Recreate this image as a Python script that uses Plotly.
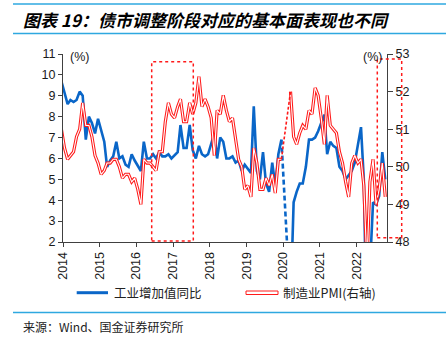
import plotly.graph_objects as go
import pandas as pd

W, H = 446, 339
L, R, T, B = 63, 59, 54, 97
PW = W - L - R
PH = H - T - B


def fx(x):
    return (x - L) / PW


def fy(y):
    return (H - B - y) / PH


# ---------------- data ----------------
start_month = "2013-12"
end_month = "2022-10"

# 工业增加值同比 (%), Jan values not published separately (None); 2021 = two-year average
iva_2013 = [9.7]
iva_2014 = [None, 8.6, 8.8, 8.7, 8.8, 9.2, 9.0, 6.9, 8.0, 7.7, 7.2, 7.9]
iva_2015 = [None, 6.8, 5.6, 5.9, 6.1, 6.8, 6.0, 6.1, 5.7, 5.6, 6.2, 5.9]
iva_2016 = [None, 5.4, 6.8, 6.0, 6.0, 6.2, 6.0, 6.3, 6.1, 6.1, 6.2, 6.0]
iva_2017 = [None, 6.3, 7.6, 6.5, 6.5, 7.6, 6.4, 6.0, 6.6, 6.2, 6.1, 6.2]
iva_2018 = [None, 7.2, 6.0, 7.0, 6.8, 6.0, 6.0, 6.1, 5.8, 5.9, 5.4, 5.7]
iva_2019 = [None, 5.3, 8.5, 5.4, 5.0, 6.3, 4.8, 4.4, 5.8, 4.7, 6.2, 6.9]
iva_2020 = [None, None, -1.1, 3.9, 4.4, 4.8, 4.8, 5.6, 6.9, 6.9, 7.0, 7.3]
iva_2021 = [None, 8.1, 6.2, 6.8, 6.6, 6.5, 5.6, 5.4, 5.0, 5.2, 5.4, 5.8]
iva_2022 = [None, 7.5, 5.0, -2.9, 0.7, 3.9, 3.8, 4.2, 6.3, 5.0]

# 制造业PMI (right axis)
pmi_2013 = [51.0]
pmi_2014 = [50.5, 50.2, 50.3, 50.4, 50.8, 51.0, 51.7, 51.1, 51.1, 50.8, 50.3, 50.1]
pmi_2015 = [49.8, 49.9, 50.1, 50.1, 50.2, 50.2, 50.0, 49.7, 49.8, 49.8, 49.6, 49.7]
pmi_2016 = [49.4, 49.0, 50.2, 50.1, 50.1, 50.0, 49.9, 50.4, 50.4, 51.2, 51.7, 51.4]
pmi_2017 = [51.3, 51.6, 51.8, 51.2, 51.2, 51.7, 51.4, 51.7, 52.4, 51.6, 51.8, 51.6]
pmi_2018 = [51.3, 50.3, 51.5, 51.4, 51.9, 51.5, 51.2, 51.3, 50.8, 50.2, 50.0, 49.4]
pmi_2019 = [49.5, 49.2, 50.5, 50.1, 49.4, 49.4, 49.7, 49.5, 49.8, 49.3, 50.2, 50.2]
pmi_2020 = [50.0, 35.7, 52.0, 50.8, 50.6, 50.9, 51.1, 51.0, 51.5, 51.4, 52.1, 51.9]
pmi_2021 = [51.3, 50.6, 51.9, 51.1, 51.0, 50.9, 50.4, 50.1, 49.6, 49.2, 50.1, 50.3]
pmi_2022 = [50.1, 50.2, 49.5, 47.4, 49.6, 50.2, 49.0, 49.4, 50.1, 49.2]

gap_months = ["2020-01", "2020-02"]   # bridged by a dashed line
year_ticks = ["2014", "2015", "2016", "2017", "2018", "2019", "2020", "2021", "2022"]

name_iva = "工业增加值同比"
name_pmi = "制造业PMI(右轴)"
title_text = "图表 19：债市调整阶段对应的基本面表现也不同"
source_text = "来源：Wind、国金证券研究所"

# ---------------- build series ----------------
months = pd.period_range(start_month, end_month, freq="M")
iva = (iva_2013 + iva_2014 + iva_2015 + iva_2016 + iva_2017 + iva_2018 +
       iva_2019 + iva_2020 + iva_2021 + iva_2022)
pmi = (pmi_2013 + pmi_2014 + pmi_2015 + pmi_2016 + pmi_2017 + pmi_2018 +
       pmi_2019 + pmi_2020 + pmi_2021 + pmi_2022)
xd = [p.to_timestamp() + pd.Timedelta(days=14) for p in months]
gap_p = [pd.Period(g, freq="M") for g in gap_months]


def split(vals):
    pre = [(x, v) for p, x, v in zip(months, xd, vals) if p < gap_p[0] and v is not None]
    post = [(x, v) for p, x, v in zip(months, xd, vals) if p > gap_p[-1] and v is not None]
    xs = [a for a, _ in pre] + [None] + [a for a, _ in post]
    ys = [b for _, b in pre] + [None] + [b for _, b in post]
    bridge = ([pre[-1][0], post[0][0]], [pre[-1][1], post[0][1]])
    return xs, ys, bridge


ix, iy, ib = split(iva)
px_, py_, pb = split(pmi)

BLUE = "#0A66C8"
RED = "#FF1A1A"

fig = go.Figure()
fig.add_trace(go.Scatter(x=ix, y=iy, mode="lines", line=dict(color=BLUE, width=2.6),
                         name=name_iva, showlegend=False))
fig.add_trace(go.Scatter(x=ib[0], y=ib[1], mode="lines",
                         line=dict(color=BLUE, width=2.6, dash="5px,3px"), showlegend=False))
fig.add_trace(go.Scatter(x=px_, y=py_, mode="lines", yaxis="y2",
                         line=dict(color=RED, width=3.2), name=name_pmi, showlegend=False))
fig.add_trace(go.Scatter(x=px_, y=py_, mode="lines", yaxis="y2",
                         line=dict(color="#FFFFFF", width=1.1), showlegend=False, hoverinfo="skip"))
fig.add_trace(go.Scatter(x=pb[0], y=pb[1], mode="lines", yaxis="y2",
                         line=dict(color=RED, width=1.6, dash="3px,2px"), showlegend=False))

AX = "#404040"
TF = dict(family="Liberation Sans, Arial, sans-serif", size=12.5, color="#1a1a1a")
fig.update_layout(
    width=W, height=H, margin=dict(l=L, r=R, t=T, b=B),
    paper_bgcolor="white", plot_bgcolor="white", showlegend=False,
    xaxis=dict(type="date", range=["2013-12-31", "2022-11-01"],
               tickvals=[y + "-01-01" for y in year_ticks], ticktext=year_ticks,
               tickangle=-90, ticks="outside", ticklen=4, tickcolor=AX,
               showline=True, linecolor=AX, linewidth=1, showgrid=False, zeroline=False,
               tickfont=TF),
    yaxis=dict(range=[2, 11], dtick=1, ticks="outside", ticklen=4, tickcolor=AX,
               showline=True, linecolor=AX, linewidth=1, showgrid=False, zeroline=False,
               tickfont=TF),
    yaxis2=dict(range=[48, 53], dtick=1, overlaying="y", side="right", ticks="outside",
                ticklen=5, tickcolor=AX, showline=True, linecolor=AX, linewidth=1,
                showgrid=False, zeroline=False, tickfont=TF),
)

LB = "#2EA8E0"
shapes = [
    dict(type="line", xref="paper", yref="paper", x0=fx(13), x1=fx(446), y0=fy(4), y1=fy(4),
         line=dict(color=LB, width=1.6)),
    dict(type="line", xref="paper", yref="paper", x0=fx(13), x1=fx(446), y0=fy(33.5), y1=fy(33.5),
         line=dict(color=LB, width=1.6)),
    dict(type="line", xref="paper", yref="paper", x0=fx(13), x1=fx(446), y0=fy(312.5), y1=fy(312.5),
         line=dict(color=LB, width=1.6)),
    # dotted highlight boxes
    dict(type="rect", xref="paper", yref="paper", x0=fx(151.7), x1=fx(193.3), y0=fy(241), y1=fy(61.7),
         line=dict(color=RED, width=1.5, dash="dot")),
    dict(type="rect", xref="paper", yref="paper", x0=fx(377.3), x1=fx(401.7), y0=fy(237.7), y1=fy(59),
         line=dict(color=RED, width=1.5, dash="dot")),
    # legend samples
    dict(type="line", xref="paper", yref="paper", x0=fx(76.7), x1=fx(108), y0=fy(292.7), y1=fy(292.7),
         line=dict(color=BLUE, width=3)),
    dict(type="rect", xref="paper", yref="paper", x0=fx(246), x1=fx(278), y0=fy(294.5), y1=fy(291),
         line=dict(color=RED, width=1), fillcolor="white"),
]
fig.update_layout(shapes=shapes)

CJK = "Noto Sans CJK SC, sans-serif"
ann = [
    dict(text="<b><i>" + title_text + "</i></b>", x=fx(21), y=fy(19.5), xanchor="left", yanchor="middle",
         font=dict(family=CJK, size=17, color="#000000")),
    dict(text=source_text, x=fx(21), y=fy(326.5), xanchor="left", yanchor="middle",
         font=dict(family=CJK, size=12, color="#222222")),
    dict(text=name_iva, x=fx(112), y=fy(292.7), xanchor="left", yanchor="middle",
         font=dict(family=CJK, size=12.5, color="#222222")),
    dict(text=name_pmi, x=fx(281), y=fy(292.7), xanchor="left", yanchor="middle",
         font=dict(family=CJK, size=12.5, color="#222222")),
    dict(text="(%)", x=fx(68), y=fy(57), xanchor="left", yanchor="middle",
         font=dict(family="Liberation Sans, Arial, sans-serif", size=12.5, color="#1a1a1a")),
    dict(text="(%)", x=fx(384), y=fy(57), xanchor="right", yanchor="middle",
         font=dict(family="Liberation Sans, Arial, sans-serif", size=12.5, color="#1a1a1a")),
]
for a in ann:
    a.update(xref="paper", yref="paper", showarrow=False)
fig.update_layout(annotations=ann)

fig.write_html("out.html")
